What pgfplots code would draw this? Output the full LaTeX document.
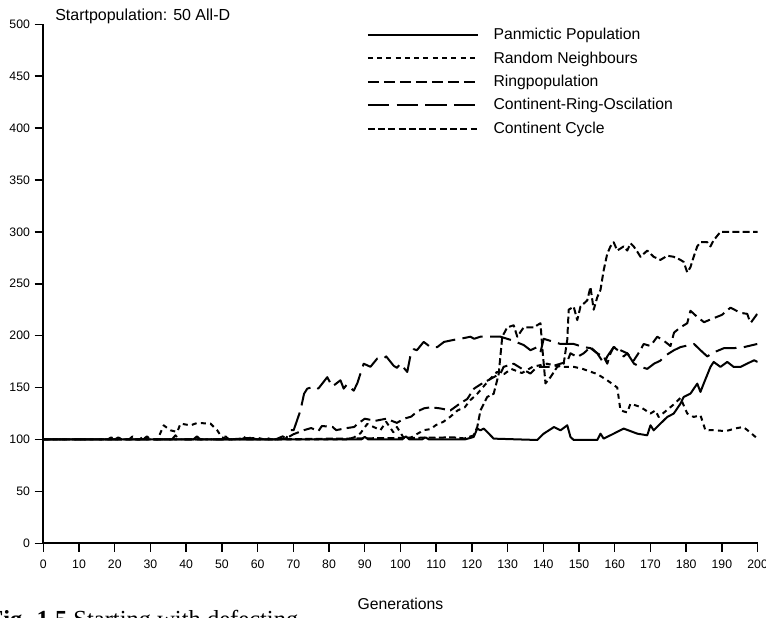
\documentclass[border=0pt]{standalone}
\usepackage{fontspec}
\setmainfont{Liberation Sans}
\newfontfamily\capfont{Liberation Serif}
\usepackage{pgfplots}
\pgfplotsset{compat=1.18}

\begin{document}
\begin{tikzpicture}[x=1pt,y=1pt]
\useasboundingbox (0,0) rectangle (574.5,462.75);
\begin{axis}[
  at={(32.5pt,55.3pt)}, anchor=south west,
  scale only axis, width=535.7pt, height=389.25pt,
  xmin=0, xmax=200, ymin=0, ymax=500,
  axis lines*=left,
  axis line style={line width=1.3pt},
  xtick={0,10,...,200}, ytick={0,50,...,500},
  tick align=outside, major tick length=6.5pt,
  tick style={line width=1.1pt, black},
  tick label style={font=\fontsize{9.2}{11}\selectfont},
  xticklabel style={yshift=-2.5pt},
  /pgf/number format/assume math mode=true,
  xlabel={Generations},
  xlabel style={at={(axis description cs:0.5,0)}, anchor=base, yshift=-50pt, font=\fontsize{11.8}{14}\selectfont},
  every axis plot/.append style={line width=1.5pt, black, line join=round},
  legend cell align=left,
  legend image code/.code={\draw[#1] (0pt,0pt) -- (82.5pt,0pt); \path (91.5pt,0pt);},
  legend style={at={(rel axis cs:0.447,1.003)}, anchor=north west, draw=none, fill=none,
    font=\fontsize{11.8}{14}\selectfont, row sep=3.5pt, column sep=0pt},
]

% Panmictic population
\addplot[solid] coordinates {
(0,100) (20,100) (21,102) (22,100) (89,100) (90,102.5) (91,100) (100.5,100) (101.5,103) (102.5,100)
(106,100) (107,102) (108,100) (118,100) (120.5,102.4) (121.5,110.5) (122.4,108.8) (123.3,110.5)
(124.3,107.2) (126.1,100.8) (138.3,99.5) (140.1,105.6) (143,112) (144.8,108.8) (146.7,113.7)
(147.6,102.4) (148.5,99.5) (155.1,99.5) (156,105.6) (156.9,100.8) (159.7,105.6) (162.5,110.5)
(166.3,105.6) (169.1,104) (170,113.7) (170.9,108.8) (172.8,115.3) (174.7,121.7) (176.5,124.9)
(178.4,134.5) (179.3,141) (181.2,144.2) (183.1,153.8) (184,145.8) (184.9,153.8) (186.8,169.9)
(187.7,174.7) (189.6,169.9) (191.5,174.7) (193.3,169.9) (195.2,169.9) (197.1,173.1) (199,176.3)
(200,174.7)
};
\addlegendentry{Panmictic Population}

% Random neighbours
\addplot[dash pattern=on 3.75pt off 3.2pt] coordinates {
(0,100) (18,100) (19,102) (20,100) (32,100) (33.7,113.6) (35.6,108.8) (37.5,107.2) (38.4,115.3)
(41.2,113.6) (43.1,115.9) (46.8,115.3) (48.7,108.8) (50,102) (52,100) (60,101.5) (62,100) (85,100)
(87,102) (88.8,106) (90.7,115) (92.5,112) (94.4,109) (96,117) (98,107) (99,112) (101,101) (103,102)
(105,106) (106.6,109) (108.4,110) (110,114) (112,117) (114,122) (116,128) (118,131) (119.6,138)
(121.5,144) (123,150) (125,158) (127,165) (129,163) (131,168) (134,164) (137,170) (141,173)
(144.8,170) (148.5,170) (151,168) (155.1,163) (157.9,157) (160.7,150) (161.6,128) (163.5,126)
(164.4,134.5) (167.2,131.3) (170,125) (171.4,128) (172.3,121.7) (176.6,134) (178.4,140)
(180.3,125) (182.1,121.7) (184,123.3) (185.4,108.8) (187.8,109) (191,108) (194.3,111) (196,112)
(197.5,108) (199.9,101)
};
\addlegendentry{Random Neighbours}

% Ring population
\addplot[dash pattern=on 8pt off 4pt] coordinates {
(0,100) (24,100) (25,103) (26,100) (36,100) (37,104) (38,100) (55,100) (56,103) (57,100) (65,100)
(67,103) (68,101) (70,105) (73,109) (75,111) (77,108) (78,113) (81,112) (82,109) (85,111) (87,112)
(88,115) (90,120) (93,118) (96,120) (99,116) (101,120) (103,122) (104.7,127) (106.6,130)
(108.4,131) (111,130) (114,128) (116.8,135) (118.7,139) (120.6,149) (122.4,153) (124,156)
(126.1,160) (128,163.5) (128.9,170) (131.7,173) (134.5,167) (136.4,163.5) (138.3,170) (142,170)
(144.8,173) (146.7,175) (147.6,183) (149.5,179.5) (151.3,183) (153.2,189) (155.1,183) (157,179.5)
(157.9,173) (158.8,183) (159.7,189) (161.6,186) (163.5,183) (165.3,176) (167,185) (168.1,192)
(170,190) (171.9,199) (173.8,195) (175.6,190) (176.6,203) (178.4,208) (180.3,212) (181.2,224)
(183.1,218) (185,213) (187.8,217) (190,220) (192.4,227) (195.2,222) (197.1,221) (198,212)
(199.9,221)
};
\addlegendentry{Ringpopulation}

% Continent-ring oscillation
\addplot[dash pattern=on 16pt off 5.5pt] coordinates {
(0,100) (28,100) (29,103) (30,100) (42,100) (43,103) (44,100) (60,100) (62,102) (64,100) (68,101)
(69.2,109) (70.1,109) (72,128) (73,144) (73.9,149) (76,151) (77,149) (79.5,160) (80.9,151)
(83.2,157) (84.1,149) (85,153) (86.9,147) (87.9,154) (89.7,173) (91.6,170) (93.5,178) (95.3,178)
(96,180) (98.1,171) (99,169) (100,173) (101.9,165) (102.8,181) (103.7,187) (104.6,186)
(106.5,194) (108.4,189) (110.3,189) (112.2,194) (115,196) (116.8,197) (119.6,199) (120.6,197)
(122.4,199) (128,199) (130.8,196) (134.5,191) (136.4,186) (138.3,189) (139.2,184) (140.1,197)
(144.8,192) (148.5,192) (151.3,189) (153.2,188) (155.1,183) (157,173) (157.9,180) (159.7,189)
(161.6,184) (162.5,180) (163.5,183) (165.4,173) (167.2,170) (169.1,168) (171,173) (172.8,176)
(173.8,180) (176.6,186) (178.4,189) (182.2,192) (184,186) (185.9,180) (187.8,184) (190.6,188)
(193.4,188) (196.2,189) (199.9,192)
};
\addlegendentry{Continent-Ring-Oscilation}

% Continent cycle
\addplot[dash pattern=on 5.2pt off 2.5pt] coordinates {
(0,100) (27,100) (28,103) (29,100) (50,100) (51,103) (52,100) (58,101.5) (60,100) (114.9,102)
(118,101) (120.5,104) (121.5,112) (122.4,128) (124.3,141) (126.1,144) (127.5,163) (128.5,199)
(129.9,208) (131.7,210) (132.7,199) (134.5,208) (137.3,208) (139.2,212) (139.7,189) (140.6,154)
(142,160) (143.9,170) (145.7,173) (146.7,196) (147.1,225) (148.5,228) (149.5,215) (150.4,228)
(152.3,234) (153.2,247) (154.1,225) (155.1,237) (156,244) (156.9,263) (157.9,279) (158.8,286)
(159.7,290) (160.7,282) (162.5,286) (163.5,282) (164.4,289) (165.3,286) (166.3,281) (167.2,276)
(169.1,282) (170.9,276) (172.8,273) (174.7,277) (176.5,276) (178.4,273) (179.3,271) (180.3,261)
(181.2,266) (182.1,276) (183.1,286) (184,290) (185.9,290) (186.8,286) (187.7,292) (189.6,300)
(200,300)
};
\addlegendentry{Continent Cycle}
\end{axis}

\node[anchor=base west, inner sep=0pt, font=\fontsize{12}{14}\selectfont] at (41.25,447) {Startpopulation: 50 All-D};

\begin{scope}
\clip (0,0) rectangle (574.5,462.75);
\node[anchor=base west, inner sep=0pt, font=\capfont\fontsize{18.4}{20}\selectfont] at (-9,-8) {\textbf{Fig. 1.5} Starting with defecting};
\end{scope}
\end{tikzpicture}
\end{document}
